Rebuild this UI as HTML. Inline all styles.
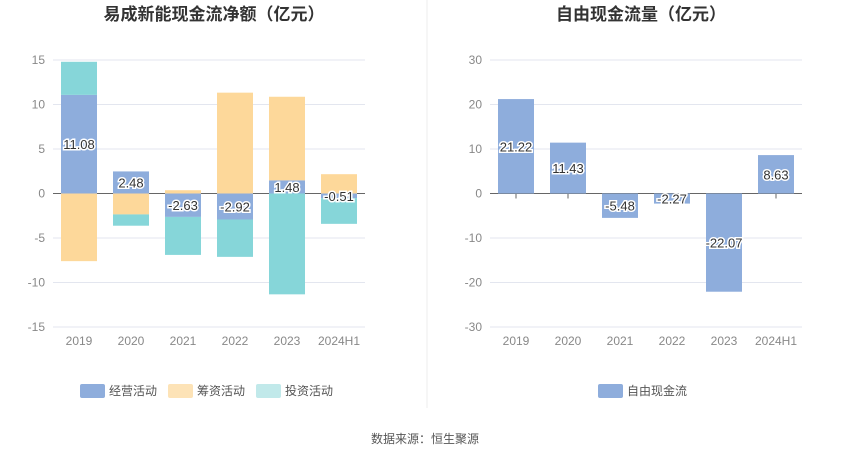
<!DOCTYPE html>
<html><head><meta charset="utf-8"><style>
body{margin:0;background:#fff;width:850px;height:459px;overflow:hidden;font-family:"Liberation Sans","Noto Sans CJK SC",sans-serif}
svg text{font-family:"Liberation Sans","Noto Sans CJK SC",sans-serif}
</style></head><body>
<svg id="c" width="850" height="459">
<line x1="427" y1="0" x2="427" y2="408" stroke="#eee"/>
<text x="214" y="20" text-anchor="middle" font-size="17" font-weight="bold" fill="#333">易成新能现金流净额（亿元）</text>
<text x="641" y="20" text-anchor="middle" font-size="17" font-weight="bold" fill="#333">自由现金流量（亿元）</text>
<text x="425" y="443" text-anchor="middle" font-size="12" fill="#555">数据来源：恒生聚源</text>
<g>
<rect x="80" y="384" width="25" height="14" rx="2" fill="#8eaddc"/>
<text x="109" y="395" font-size="12" fill="#555">经营活动</text>
<rect x="168" y="384" width="25" height="14" rx="2" fill="#fde3b7"/>
<text x="197" y="395" font-size="12" fill="#555">筹资活动</text>
<rect x="256" y="384" width="25" height="14" rx="2" fill="#c1e9ea"/>
<text x="285" y="395" font-size="12" fill="#555">投资活动</text>
</g>
<g>
<rect x="598" y="384" width="25" height="14" rx="2" fill="#8eaddc"/>
<text x="627" y="395" font-size="12" fill="#555">自由现金流</text>
</g>
</svg>
<script>
const categories=["2019","2020","2021","2022","2023","2024H1"];
const operating=[11.08,2.48,-2.63,-2.92,1.48,-0.51];
const financing=[-7.6,-2.35,0.37,11.33,9.39,2.17];
const investing=[3.72,-1.27,-4.27,-4.2,-11.33,-2.9];
const leftTicks=[15,10,5,0,-5,-10,-15];
const fcf=[21.22,11.43,-5.48,-2.27,-22.07,8.63];
const rightTicks=[30,20,10,0,-10,-20,-30];

const NS="http://www.w3.org/2000/svg";
const svg=document.getElementById('c');
function mk(tag,attrs,parent){const e=document.createElementNS(NS,tag);for(const k in attrs)e.setAttribute(k,attrs[k]);(parent||svg).appendChild(e);return e;}
const yTop=60,yBot=327;
function yScale(min,max){return v=>yTop+(max-v)/(max-min)*(yBot-yTop);}
function axes(x0,x1,ticks,y,prefix){
  const g=mk('g',{});
  
  
  ticks.forEach(t=>{
    const l=mk('line',{x1:x0,x2:x1,y1:y(t),y2:y(t),stroke:t===0?'#666':'#e3e6ef'},g);
    
    
    const tx=mk('text',{x:x0-8,y:y(t)+4,'text-anchor':'end','font-size':12,fill:'#888'},g);
    tx.textContent=t;
    
    
  });
  const bw=(x1-x0)/categories.length;
  categories.forEach((c,i)=>{
    const cx=x0+bw*(i+0.5);
    const tk=mk('line',{x1:cx,x2:cx,y1:y(0),y2:y(0)+5,stroke:'#666'},g);
    
    
    const tx=mk('text',{x:cx,y:345,'text-anchor':'middle','font-size':12,fill:'#888'},g);
    tx.textContent=c;
    
    
  });
  return bw;
}
function label(x,y,txt,name){
  const t=mk('text',{x:x,y:y+5,'text-anchor':'middle','font-size':13,fill:'#333',stroke:'#fff','stroke-width':3,'paint-order':'stroke'});
  t.textContent=txt;
  
  
}
// left chart
const L0=53,L1=365,yl=yScale(-15,15);
const lbw=axes(L0,L1,leftTicks,yl,'left');
const series=[[operating,'#8eaddc','operating'],[financing,'#fdd89a','financing'],[investing,'#86d6d9','investing']];
categories.forEach((c,i)=>{
  let pos=0,neg=0;
  const cx=L0+lbw*(i+0.5);
  series.forEach(([arr,col,nm])=>{
    const v=arr[i];let a,b;
    if(v>=0){a=pos;b=pos+v;pos=b;}else{a=neg;b=neg+v;neg=b;}
    const y1=yl(Math.max(a,b)),y2=yl(Math.min(a,b));
    const r=mk('rect',{x:cx-18,y:y1,width:36,height:y2-y1,fill:col});
    
    
  });
  label(cx,yl(operating[i]/2),operating[i].toFixed(2),'label-operating-'+c);
});
// right chart
const R0=490,R1=802,yr=yScale(-30,30);
const rbw=axes(R0,R1,rightTicks,yr,'right');
categories.forEach((c,i)=>{
  const cx=R0+rbw*(i+0.5),v=fcf[i];
  const y1=yr(Math.max(0,v)),y2=yr(Math.min(0,v));
  const r=mk('rect',{x:cx-18,y:y1,width:36,height:y2-y1,fill:'#8eaddc'});
  
  
  label(cx,yr(v/2),v.toFixed(2),'label-fcf-'+c);
});
</script>
</body></html>
